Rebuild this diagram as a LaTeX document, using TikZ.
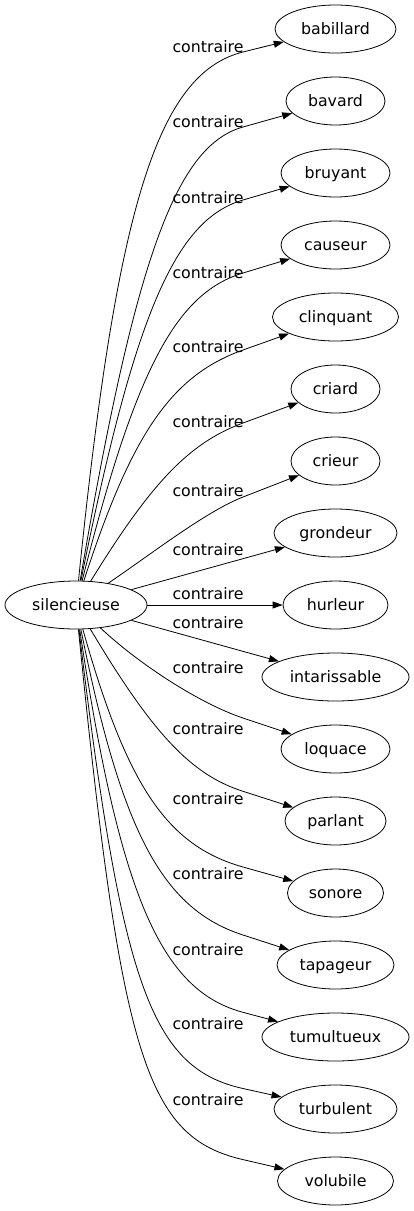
\documentclass[tikz,border=0pt]{standalone}
\usepackage{fontspec}
\setmainfont{DejaVu Sans}
\usetikzlibrary{arrows.meta,shapes.geometric}
\begin{document}
\begin{tikzpicture}[x=1pt,y=-1pt,
  every node/.style={font=\fontsize{15.8pt}{19pt}\selectfont, text height=12pt, text depth=2pt, inner sep=0pt},
  nd/.style={draw, ellipse, line width=0.8pt, minimum height=48pt, minimum width=#1},
  lbl/.style={},
  edge/.style={line width=0.8pt, -{Triangle[length=10pt,width=7pt]}}]
\path[use as bounding box] (0,0) rectangle (414,1211);
% nodes
\node[nd=142pt] (s) at (76,605) {silencieuse};
\node[nd=121pt] (t1) at (335.5,29) {babillard};
\node[nd=99pt] (t2) at (335.5,101) {bavard};
\node[nd=109pt] (t3) at (335.5,173) {bruyant};
\node[nd=109pt] (t4) at (335.5,245) {causeur};
\node[nd=126pt] (t5) at (335.5,317) {clinquant};
\node[nd=89pt] (t6) at (335.5,389) {criard};
\node[nd=89pt] (t7) at (335.5,461) {crieur};
\node[nd=123pt] (t8) at (335.5,533) {grondeur};
\node[nd=105pt] (t9) at (335.5,605) {hurleur};
\node[nd=147pt] (t10) at (335.5,677) {intarissable};
\node[nd=109pt] (t11) at (335.5,749) {loquace};
\node[nd=101pt] (t12) at (335.5,821) {parlant};
\node[nd=96pt] (t13) at (335.5,893) {sonore};
\node[nd=117pt] (t14) at (335.5,965) {tapageur};
\node[nd=147pt] (t15) at (335.5,1037) {tumultueux};
\node[nd=123pt] (t16) at (335.5,1109) {turbulent};
\node[nd=116pt] (t17) at (335.5,1181) {volubile};
% labels
\node[lbl] (l1) at (208,47) {contraire};
\node[lbl] (l2) at (208,122) {contraire};
\node[lbl] (l3) at (208,198) {contraire};
\node[lbl] (l4) at (208,273) {contraire};
\node[lbl] (l5) at (208,347) {contraire};
\node[lbl] (l6) at (208,422) {contraire};
\node[lbl] (l7) at (208,491) {contraire};
\node[lbl] (l8) at (208,550) {contraire};
\node[lbl] (l9) at (208,594) {contraire};
\node[lbl] (l10) at (208,623) {contraire};
\node[lbl] (l11) at (208,668) {contraire};
\node[lbl] (l12) at (208,729) {contraire};
\node[lbl] (l13) at (208,799) {contraire};
\node[lbl] (l14) at (208,874) {contraire};
\node[lbl] (l15) at (208,950) {contraire};
\node[lbl] (l16) at (208,1024) {contraire};
\node[lbl] (l17) at (208,1100) {contraire};
% bend points
\coordinate (m1) at (243,52);
\coordinate (m2) at (243,127);
\coordinate (m3) at (243,200);
\coordinate (m4) at (243,273);
\coordinate (m5) at (243,350);
\coordinate (m6) at (243,423);
\coordinate (m7) at (243,497);
\coordinate (m11) at (243,718);
\coordinate (m12) at (243,791.3);
\coordinate (m13) at (243,867);
\coordinate (m14) at (243,935);
\coordinate (m15) at (243,1012.3);
\coordinate (m16) at (243,1088.5);
\coordinate (m17) at (243,1159.6);
% edges
\draw[edge] (s) .. controls (116,213) and (155.7,73.8) .. (m1) -- (t1);
\draw[edge] (s) .. controls (135,259.4) and (175.6,145.9) .. (m2) -- (t2);
\draw[edge] (s) .. controls (134.4,315.1) and (174.8,219.9) .. (m3) -- (t3);
\draw[edge] (s) .. controls (135.3,370.5) and (175.4,293.5) .. (m4) -- (t4);
\draw[edge] (s) .. controls (131.75,433.3) and (171.4,375.6) .. (m5) -- (t5);
\draw[edge] (s) .. controls (151.5,482.4) and (189.2,442.8) .. (m6) -- (t6);
\draw[edge] (s) .. controls (150,555) and (205.7,511.5) .. (m7) -- (t7);
\draw[edge] (s) -- (t8);
\draw[edge] (s) -- (t9);
\draw[edge] (s) -- (t10);
\draw[edge] (s) .. controls (140,665) and (200.3,703.7) .. (m11) -- (t11);
\draw[edge] (s) .. controls (152.9,734.1) and (191.25,774.7) .. (m12) -- (t12);
\draw[edge] (s) .. controls (127,786.1) and (167,845.6) .. (m13) -- (t13);
\draw[edge] (s) .. controls (121.65,832.3) and (162.15,908.8) .. (m14) -- (t14);
\draw[edge] (s) .. controls (119.6,894.4) and (160.4,990.3) .. (m15) -- (t15);
\draw[edge] (s) .. controls (121.7,985.5) and (151.2,1068.2) .. (m16) -- (t16);
\draw[edge] (s) .. controls (121.2,1057.6) and (145.9,1137.2) .. (m17) -- (t17);
\end{tikzpicture}
\end{document}
